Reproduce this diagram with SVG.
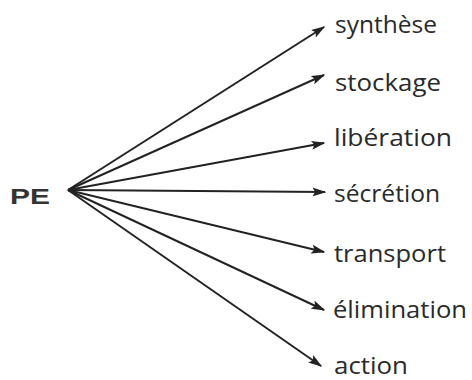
<svg xmlns="http://www.w3.org/2000/svg" width="472" height="380" viewBox="0 0 472 380">
<style>
.lbl{font-family:"Open Sans","DejaVu Sans",sans-serif;font-size:23px;fill:#2a2a2a}
.pe{font-family:"Liberation Sans",Arial,sans-serif;font-size:22px;font-weight:bold;fill:#333}
.c{stroke:#222;stroke-width:2;fill:none;marker-end:url(#ah)}
</style>
<defs>
<marker id="ah" viewBox="0 0 10 10" refX="9" refY="5" markerWidth="14" markerHeight="9" orient="auto" markerUnits="userSpaceOnUse" preserveAspectRatio="none">
<path d="M0,0 L10,5 L0,10 L2,5 z" fill="#222"/>
</marker>
</defs>
<rect width="472" height="380" fill="#fff"/>
<g id="connectors">
<line class="c" x1="68" y1="190" x2="324" y2="27"/>
<line class="c" x1="68" y1="190" x2="324" y2="75"/>
<line class="c" x1="68" y1="190" x2="324" y2="143"/>
<line class="c" x1="68" y1="190" x2="325" y2="192"/>
<line class="c" x1="68" y1="190" x2="324" y2="252"/>
<line class="c" x1="68" y1="190" x2="324" y2="310"/>
<line class="c" x1="68" y1="190" x2="321" y2="366"/>
</g>
<g id="PE"><text class="pe" x="10" y="204" textLength="40" lengthAdjust="spacingAndGlyphs">PE</text></g>
<g id="synthese"><text class="lbl" x="335" y="33" textLength="102" lengthAdjust="spacingAndGlyphs">synthèse</text></g>
<g id="stockage"><text class="lbl" x="335" y="91" textLength="106" lengthAdjust="spacingAndGlyphs">stockage</text></g>
<g id="liberation"><text class="lbl" x="334" y="146" textLength="118" lengthAdjust="spacingAndGlyphs">libération</text></g>
<g id="secretion"><text class="lbl" x="334" y="202" textLength="106" lengthAdjust="spacingAndGlyphs">sécrétion</text></g>
<g id="transport"><text class="lbl" x="334" y="262" textLength="112" lengthAdjust="spacingAndGlyphs">transport</text></g>
<g id="elimination"><text class="lbl" x="333" y="318" textLength="134" lengthAdjust="spacingAndGlyphs">élimination</text></g>
<g id="action"><text class="lbl" x="334" y="374" textLength="74" lengthAdjust="spacingAndGlyphs">action</text></g>
</svg>
